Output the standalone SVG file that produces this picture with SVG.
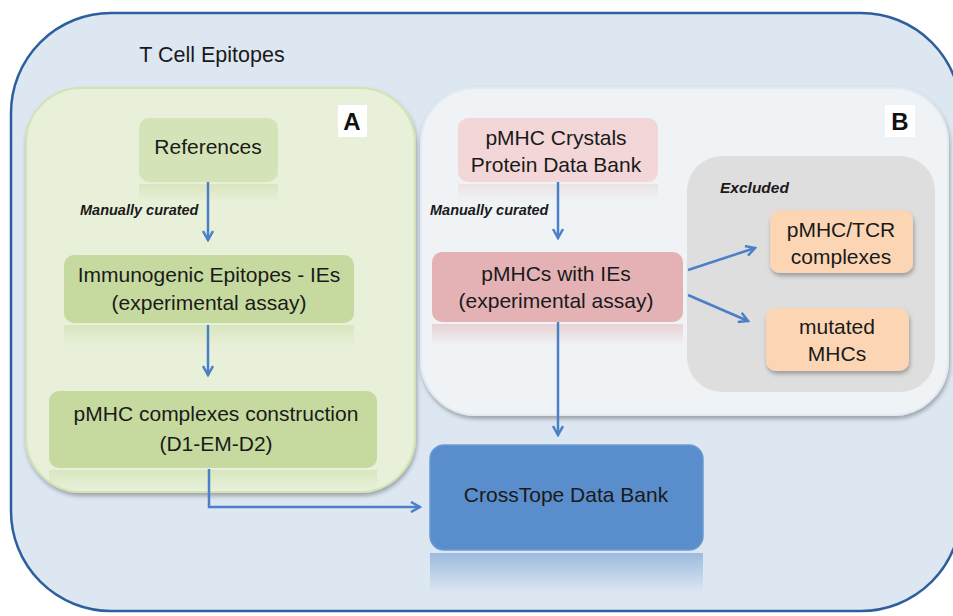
<svg xmlns="http://www.w3.org/2000/svg" width="953" height="616" viewBox="0 0 953 616">
<style>
.t{font-family:"Liberation Sans",Arial,sans-serif;font-size:21px;fill:#1a1a1a;text-anchor:middle}
.lbl{font-family:"Liberation Sans",Arial,sans-serif;font-size:14.5px;font-weight:bold;font-style:italic;fill:#1a1a1a}
.big{font-family:"Liberation Sans",Arial,sans-serif;font-size:24px;font-weight:bold;fill:#111;text-anchor:middle}
.con{fill:none;stroke:#4a80c8;stroke-width:2.5}
</style>
<defs>
<marker id="ah" viewBox="0 0 12 12" refX="10" refY="6" markerWidth="12" markerHeight="12" markerUnits="userSpaceOnUse" orient="auto">
<path d="M1,1 L10,6 L1,11" fill="none" stroke="#4a80c8" stroke-width="2.5"/>
</marker>
<linearGradient id="refG" x1="0" y1="0" x2="0" y2="1"><stop offset="0" stop-color="#c9dca5" stop-opacity="0.5"/><stop offset="1" stop-color="#c9dca5" stop-opacity="0"/></linearGradient>
<linearGradient id="refP" x1="0" y1="0" x2="0" y2="1"><stop offset="0" stop-color="#e3b0b4" stop-opacity="0.5"/><stop offset="1" stop-color="#e3b0b4" stop-opacity="0"/></linearGradient>
<linearGradient id="refB" x1="0" y1="0" x2="0" y2="1"><stop offset="0" stop-color="#5b8ecb" stop-opacity="0.5"/><stop offset="1" stop-color="#5b8ecb" stop-opacity="0"/></linearGradient>
<filter id="sh" x="-10%" y="-10%" width="120%" height="130%"><feDropShadow dx="1" dy="3" stdDeviation="2" flood-color="#000" flood-opacity="0.3"/></filter>
</defs>

<g id="outer">
<rect x="11" y="13" width="950" height="598" rx="100" fill="#dde7f2" stroke="#2d5f9e" stroke-width="2.5"/>
<text x="212" y="62" class="t" style="font-size:21.5px">T Cell Epitopes</text>
</g>

<g id="panelA">
<rect x="26" y="88" width="389" height="404" rx="55" fill="#e8f0d9" stroke="#d3e3b2" stroke-width="2" filter="url(#sh)"/>
<rect x="338" y="105" width="29" height="32" fill="#ffffff"/>
<text x="352" y="130" class="big">A</text>
</g>

<g id="panelB">
<rect x="421" y="88" width="527" height="327" rx="55" fill="#eff3f6" stroke="#e3eaf1" stroke-width="2" filter="url(#sh)"/>
<rect x="885" y="105" width="30" height="32" fill="#ffffff"/>
<text x="900" y="130" class="big">B</text>
</g>

<g id="excluded">
<rect x="687" y="156" width="248" height="236" rx="35" fill="#dedede"/>
<text x="720" y="193" class="lbl" style="font-size:15.5px">Excluded</text>
</g>

<g id="references">
<rect x="139" y="184" width="139" height="18" fill="url(#refG)"/>
<rect x="139" y="118" width="139" height="64" rx="10" fill="#d4e4b8"/>
<text x="208" y="154" class="t">References</text>
</g>

<g id="immunogenic">
<rect x="64" y="325" width="290" height="22" fill="url(#refG)"/>
<rect x="64" y="255" width="290" height="68" rx="10" fill="#c6da9f"/>
<text x="209" y="282" class="t">Immunogenic Epitopes - IEs</text>
<text x="209" y="310" class="t">(experimental assay)</text>
</g>

<g id="pmhc-construction">
<rect x="49" y="470" width="328" height="20" fill="url(#refG)"/>
<rect x="49" y="391" width="328" height="77" rx="10" fill="#c6da9f"/>
<text x="216" y="421" class="t">pMHC complexes construction</text>
<text x="216" y="451" class="t">(D1-EM-D2)</text>
</g>

<g id="pmhc-crystals">
<rect x="458" y="184" width="200" height="18" fill="url(#refP)" opacity="0.5"/>
<rect x="458" y="118" width="200" height="64" rx="10" fill="#f2d6d8"/>
<text x="556" y="145" class="t">pMHC Crystals</text>
<text x="556" y="172" class="t">Protein Data Bank</text>
</g>

<g id="pmhcs-ies">
<rect x="432" y="324" width="251" height="22" fill="url(#refP)"/>
<rect x="432" y="252" width="251" height="70" rx="10" fill="#e4b2b5"/>
<text x="556" y="281" class="t">pMHCs with IEs</text>
<text x="556" y="308" class="t">(experimental assay)</text>
</g>

<g id="pmhc-tcr">
<rect x="770" y="210" width="143" height="63" rx="10" fill="#fcd6b4" filter="url(#sh)"/>
<text x="841" y="237" class="t">pMHC/TCR</text>
<text x="841" y="264" class="t">complexes</text>
</g>

<g id="mutated">
<rect x="766" y="308" width="143" height="63" rx="10" fill="#fcd6b4" filter="url(#sh)"/>
<text x="837" y="334" class="t">mutated</text>
<text x="837" y="361" class="t">MHCs</text>
</g>

<g id="crosstope">
<rect x="430" y="553" width="273" height="40" fill="url(#refB)"/>
<rect x="430" y="445" width="273" height="105" rx="14" fill="#5a8dcb" stroke="#6b9ad3" stroke-width="1.5"/>
<text x="566" y="502" class="t">CrossTope Data Bank</text>
</g>

<g id="connectors">
<line x1="208" y1="182" x2="208" y2="240" class="con" marker-end="url(#ah)"/>
<text x="80" y="215" class="lbl">Manually curated</text>
<line x1="208" y1="325" x2="208" y2="375" class="con" marker-end="url(#ah)"/>
<polyline points="209,469 209,507 420,507" class="con" marker-end="url(#ah)"/>
<line x1="558" y1="182" x2="558" y2="238" class="con" marker-end="url(#ah)"/>
<text x="430" y="215" class="lbl">Manually curated</text>
<line x1="558" y1="322" x2="558" y2="435" class="con" marker-end="url(#ah)"/>
<line x1="688" y1="270" x2="755" y2="248" class="con" marker-end="url(#ah)"/>
<line x1="688" y1="295" x2="748" y2="321" class="con" marker-end="url(#ah)"/>
</g>
</svg>
